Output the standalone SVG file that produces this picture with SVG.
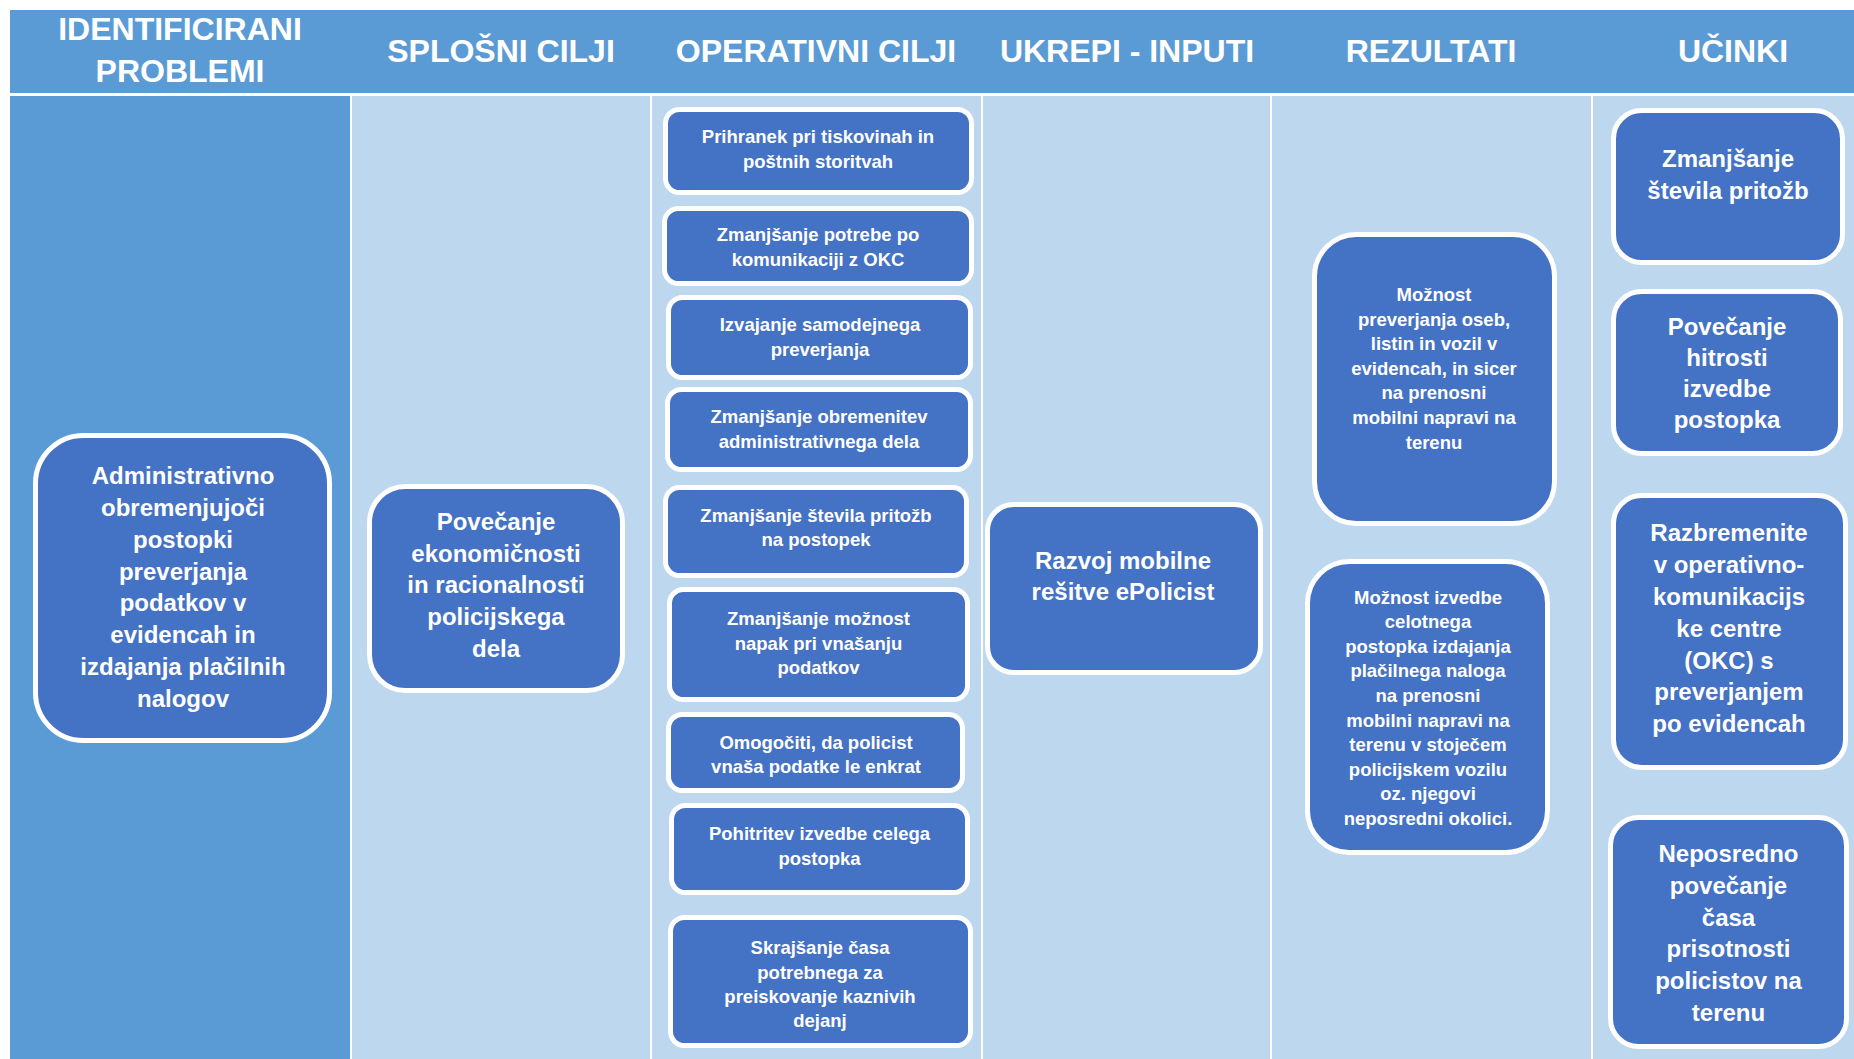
<svg xmlns="http://www.w3.org/2000/svg" width="1854" height="1059" viewBox="0 0 1854 1059">
<style>
.hdr{fill:#5B9BD5}
.dark{fill:#5B9BD5}
.light{fill:#BDD7EE}
.box{fill:#4472C4;stroke:#FFFFFF;stroke-width:5}
text{font-family:"Liberation Sans",Arial,sans-serif;font-weight:bold;fill:#FFFFFF;text-anchor:middle}
.h{font-size:32px}
.l{font-size:24px}
.s{font-size:18.5px}
</style>
<rect x="0" y="0" width="1854" height="1059" fill="#FFFFFF"/>
<g id="header">
<rect class="hdr" x="10" y="10" width="1844" height="83"/>
<text class="h" x="180" y="40">IDENTIFICIRANI</text>
<text class="h" x="180" y="82">PROBLEMI</text>
<text class="h" x="501" y="62">SPLOŠNI CILJI</text>
<text class="h" x="816" y="62">OPERATIVNI CILJI</text>
<text class="h" x="1127" y="62">UKREPI - INPUTI</text>
<text class="h" x="1431" y="62">REZULTATI</text>
<text class="h" x="1733" y="62">UČINKI</text>
</g>
<g id="columns">
<rect class="dark" x="10" y="96" width="340" height="963"/>
<rect class="light" x="352" y="96" width="298" height="963"/>
<rect class="light" x="652" y="96" width="329" height="963"/>
<rect class="light" x="983" y="96" width="287" height="963"/>
<rect class="light" x="1272" y="96" width="319" height="963"/>
<rect class="light" x="1593" y="96" width="261" height="963"/>
</g>
<g id="connectors"></g>
<g id="problem">
<rect class="box" x="35.5" y="435.5" width="294" height="305" rx="48"/>
<text class="l" x="183" y="484">Administrativno</text>
<text class="l" x="183" y="516">obremenjujoči</text>
<text class="l" x="183" y="548">postopki</text>
<text class="l" x="183" y="579.5">preverjanja</text>
<text class="l" x="183" y="611">podatkov v</text>
<text class="l" x="183" y="643">evidencah in</text>
<text class="l" x="183" y="675">izdajanja plačilnih</text>
<text class="l" x="183" y="706.5">nalogov</text>
</g>
<g id="splosni">
<rect class="box" x="369.5" y="486.5" width="253" height="204" rx="36"/>
<text class="l" x="496" y="530">Povečanje</text>
<text class="l" x="496" y="561.7">ekonomičnosti</text>
<text class="l" x="496" y="593.4">in racionalnosti</text>
<text class="l" x="496" y="625">policijskega</text>
<text class="l" x="496" y="656.7">dela</text>
</g>
<g id="op1">
<rect class="box" x="665.5" y="109.5" width="306" height="83" rx="14"/>
<text class="s" x="818" y="143">Prihranek pri tiskovinah in</text>
<text class="s" x="818" y="167.5">poštnih storitvah</text>
</g>
<g id="op2">
<rect class="box" x="664.5" y="208.5" width="307" height="75" rx="14"/>
<text class="s" x="818" y="241">Zmanjšanje potrebe po</text>
<text class="s" x="818" y="265.5">komunikaciji z OKC</text>
</g>
<g id="op3">
<rect class="box" x="668.5" y="297.5" width="302" height="80" rx="14"/>
<text class="s" x="820" y="331">Izvajanje samodejnega</text>
<text class="s" x="820" y="355.5">preverjanja</text>
</g>
<g id="op4">
<rect class="box" x="667.5" y="389.5" width="303" height="80" rx="14"/>
<text class="s" x="819" y="423">Zmanjšanje obremenitev</text>
<text class="s" x="819" y="447.5">administrativnega dela</text>
</g>
<g id="op5">
<rect class="box" x="665.5" y="487.5" width="301" height="88" rx="14"/>
<text class="s" x="816" y="521.5">Zmanjšanje števila pritožb</text>
<text class="s" x="816" y="546">na postopek</text>
</g>
<g id="op6">
<rect class="box" x="669.5" y="589.5" width="298" height="110" rx="14"/>
<text class="s" x="818.5" y="625">Zmanjšanje možnost</text>
<text class="s" x="818.5" y="649.5">napak pri vnašanju</text>
<text class="s" x="818.5" y="674">podatkov</text>
</g>
<g id="op7">
<rect class="box" x="668.5" y="714.5" width="294" height="76" rx="14"/>
<text class="s" x="816" y="749">Omogočiti, da policist</text>
<text class="s" x="816" y="773">vnaša podatke le enkrat</text>
</g>
<g id="op8">
<rect class="box" x="671.5" y="805.5" width="296" height="87" rx="14"/>
<text class="s" x="819.5" y="840">Pohitritev izvedbe celega</text>
<text class="s" x="819.5" y="864.5">postopka</text>
</g>
<g id="op9">
<rect class="box" x="670.5" y="917.5" width="300" height="128" rx="14"/>
<text class="s" x="820" y="954">Skrajšanje časa</text>
<text class="s" x="820" y="978.5">potrebnega za</text>
<text class="s" x="820" y="1003">preiskovanje kaznivih</text>
<text class="s" x="820" y="1027">dejanj</text>
</g>
<g id="ukrep">
<rect class="box" x="987.5" y="504.5" width="273" height="168" rx="26"/>
<text class="l" x="1123" y="569">Razvoj mobilne</text>
<text class="l" x="1123" y="600">rešitve ePolicist</text>
</g>
<g id="rez1">
<rect class="box" x="1314.5" y="234.5" width="240" height="289" rx="42"/>
<text class="s" x="1434" y="301">Možnost</text>
<text class="s" x="1434" y="325.6">preverjanja oseb,</text>
<text class="s" x="1434" y="350.2">listin in vozil v</text>
<text class="s" x="1434" y="374.8">evidencah, in sicer</text>
<text class="s" x="1434" y="399.4">na prenosni</text>
<text class="s" x="1434" y="424">mobilni napravi na</text>
<text class="s" x="1434" y="448.6">terenu</text>
</g>
<g id="rez2">
<rect class="box" x="1307.5" y="561.5" width="240" height="291" rx="42"/>
<text class="s" x="1428" y="603.6">Možnost izvedbe</text>
<text class="s" x="1428" y="628.2">celotnega</text>
<text class="s" x="1428" y="652.8">postopka izdajanja</text>
<text class="s" x="1428" y="677.4">plačilnega naloga</text>
<text class="s" x="1428" y="702">na prenosni</text>
<text class="s" x="1428" y="726.6">mobilni napravi na</text>
<text class="s" x="1428" y="751.2">terenu v stoječem</text>
<text class="s" x="1428" y="775.8">policijskem vozilu</text>
<text class="s" x="1428" y="800.4">oz. njegovi</text>
<text class="s" x="1428" y="825">neposredni okolici.</text>
</g>
<g id="ucinek1">
<rect class="box" x="1613.5" y="110.5" width="229" height="152" rx="28"/>
<text class="l" x="1728" y="167">Zmanjšanje</text>
<text class="l" x="1728" y="198.5">števila pritožb</text>
</g>
<g id="ucinek2">
<rect class="box" x="1613.5" y="291.5" width="227" height="162" rx="28"/>
<text class="l" x="1727" y="335">Povečanje</text>
<text class="l" x="1727" y="366">hitrosti</text>
<text class="l" x="1727" y="397">izvedbe</text>
<text class="l" x="1727" y="428">postopka</text>
</g>
<g id="ucinek3">
<rect class="box" x="1613.5" y="495.5" width="232" height="272" rx="28"/>
<text class="l" x="1729" y="541">Razbremenite</text>
<text class="l" x="1729" y="573">v operativno-</text>
<text class="l" x="1729" y="605">komunikacijs</text>
<text class="l" x="1729" y="636.5">ke centre</text>
<text class="l" x="1729" y="668.5">(OKC) s</text>
<text class="l" x="1729" y="700">preverjanjem</text>
<text class="l" x="1729" y="732">po evidencah</text>
</g>
<g id="ucinek4">
<rect class="box" x="1610.5" y="817.5" width="236" height="229" rx="28"/>
<text class="l" x="1728.5" y="862">Neposredno</text>
<text class="l" x="1728.5" y="894">povečanje</text>
<text class="l" x="1728.5" y="925.5">časa</text>
<text class="l" x="1728.5" y="957">prisotnosti</text>
<text class="l" x="1728.5" y="989">policistov na</text>
<text class="l" x="1728.5" y="1020.5">terenu</text>
</g>
</svg>
